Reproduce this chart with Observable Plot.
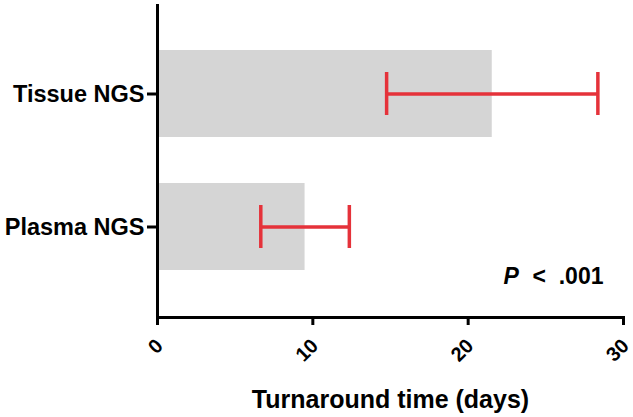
<!DOCTYPE html>
<html>
<head>
<meta charset="utf-8">
<script src="https://cdn.jsdelivr.net/npm/d3@7"></script>
<script src="https://cdn.jsdelivr.net/npm/@observablehq/plot@0.6"></script>
<style>
  html, body { margin: 0; padding: 0; background: #fff; }
</style>
</head>
<body>
<div id="chart"></div>
<script>
// Data
const groups = ["Tissue NGS", "Plasma NGS"];
const means = [21.55, 9.5];
const errors = [6.8, 2.85];
const xTicks = [0, 10, 20, 30];
const xLabel = ["Turnaround time (days)"];
const pItalic = ["P"];
const pRest = ["<  .001"];

const data = groups.map((g, i) => ({
  group: g,
  mean: means[i],
  lo: means[i] - errors[i],
  hi: means[i] + errors[i]
}));

const red = "#e5323a";
const font = "'Liberation Sans', Arial, sans-serif";

const chart = Plot.plot({
  width: 633,
  height: 417,
  marginLeft: 157,
  marginRight: 10,
  marginTop: 4,
  marginBottom: 100,
  style: { fontFamily: font, fontWeight: "bold", color: "black", background: "white", overflow: "visible" },
  x: { domain: [0, 30] },
  y: { domain: groups, padding: 0.343 },
  marks: [
    Plot.barX(data, { x: "mean", y: "group", fill: "#d5d5d5" }),
    Plot.ruleY(data, { y: "group", x1: "lo", x2: "hi", stroke: red, strokeWidth: 3.5 }),
    Plot.tickX(data, { x: "lo", y: "group", stroke: red, strokeWidth: 3.5, insetTop: 22, insetBottom: 22 }),
    Plot.tickX(data, { x: "hi", y: "group", stroke: red, strokeWidth: 3.5, insetTop: 22, insetBottom: 22 }),
    Plot.axisY({ tickSize: 10, tickPadding: 3, fontSize: 23.5, strokeWidth: 3, label: null }),
    Plot.axisX({ ticks: xTicks, tickSize: 8, strokeWidth: 3, tickFormat: () => "", label: null }),
    Plot.textX(xTicks, { x: d => d, text: d => String(d), frameAnchor: "bottom", rotate: -45, textAnchor: "end", lineAnchor: "middle", dx: 2, dy: 25, fontSize: 20, fontWeight: "bold" }),
    Plot.ruleX([0], { strokeWidth: 3 }),
    Plot.frame({ anchor: "bottom", strokeWidth: 3 }),
    Plot.text(xLabel, { frameAnchor: "bottom", dy: 90, lineAnchor: "bottom", fontSize: 25, fontWeight: "bold" }),
    Plot.text(pItalic, { frameAnchor: "bottom-right", dx: -120, dy: -34, lineAnchor: "bottom", textAnchor: "start", fontSize: 23, fontWeight: "bold", fontStyle: "italic" }),
    Plot.text(pRest, { frameAnchor: "bottom-right", dx: -20, dy: -34, lineAnchor: "bottom", textAnchor: "end", fontSize: 23, fontWeight: "bold" })
  ]
});
document.getElementById("chart").appendChild(chart);
</script>
</body>
</html>
